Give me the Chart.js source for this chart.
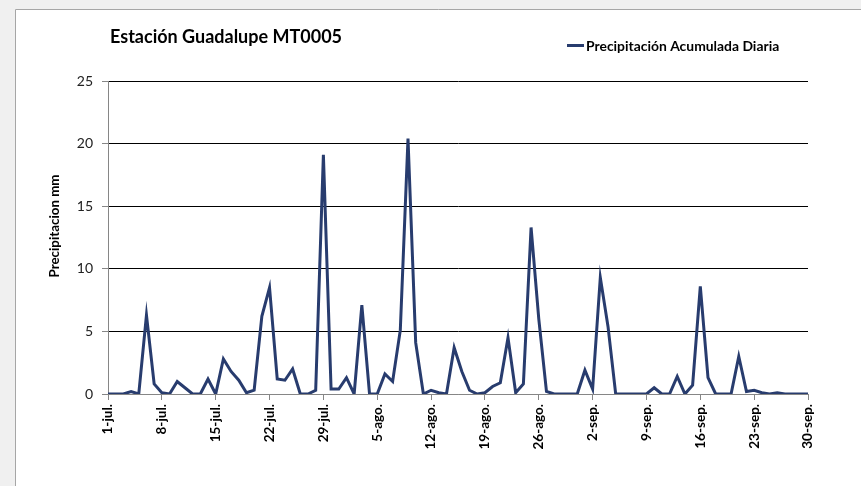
<!DOCTYPE html>
<html>
<head>
<meta charset="utf-8">
<script src="https://cdn.jsdelivr.net/npm/chart.js@4.4.0/dist/chart.umd.min.js"></script>
<style>
  html, body { margin: 0; padding: 0; background: #f0f0f0; }
  #wrap { width: 861px; height: 486px; position: relative; }
</style>
</head>
<body>
<div id="wrap"><canvas id="c" width="861" height="486"></canvas></div>
<script>
const chartTitle = 'Estación Guadalupe MT0005';
const seriesName = 'Precipitación Acumulada Diaria';
const yAxisTitle = 'Precipitacion mm';
const months = ['jul.', 'ago.', 'sep.'];
const monthDays = [31, 31, 30];
const yTicks = [0, 5, 10, 15, 20, 25];

// Daily precipitation (mm), 1-jul to 30-sep
const julValues = [0, 0, 0, 0.2, 0, 6.3, 0.8, 0.1, 0, 1.0, 0.5, 0, 0, 1.2, 0, 2.8, 1.8, 1.1, 0.1, 0.3, 6.2, 8.5, 1.2, 1.1, 2.0, 0, 0, 0.3, 19.1, 0.4, 0.4];
const agoValues = [1.3, 0, 7.1, 0, 0, 1.6, 1.0, 5.1, 20.4, 4.1, 0, 0.3, 0.1, 0, 3.7, 1.8, 0.3, 0, 0.1, 0.6, 0.9, 4.5, 0.1, 0.8, 13.3, 6.0, 0.2, 0, 0, 0, 0];
const sepValues = [1.9, 0.4, 9.3, 5.4, 0, 0, 0, 0, 0, 0.5, 0, 0, 1.4, 0, 0.7, 8.6, 1.3, 0, 0, 0, 3.0, 0.2, 0.3, 0.1, 0, 0.1, 0, 0, 0, 0];

const categories = [];
months.forEach((m, k) => { for (let d = 1; d <= monthDays[k]; d++) categories.push(d + '-' + m); });
const values = julValues.concat(agoValues, sepValues);

const FONT = 'Lato, "Open Sans", sans-serif';

const decor = {
  id: 'decor',
  beforeDraw(chart) {
    const ctx = chart.ctx;
    ctx.save();
    ctx.fillStyle = '#f0f0f0';
    ctx.fillRect(0, 0, chart.width, chart.height);
    ctx.fillStyle = '#ffffff';
    ctx.fillRect(15, 9, chart.width - 15, chart.height - 9);
    ctx.strokeStyle = '#a6a6a6';
    ctx.lineWidth = 1;
    ctx.beginPath();
    ctx.moveTo(15.5, chart.height);
    ctx.lineTo(15.5, 9.5);
    ctx.lineTo(chart.width, 9.5);
    ctx.stroke();
    ctx.restore();
  },
  afterDraw(chart) {
    const ctx = chart.ctx;
    ctx.save();
    // title
    ctx.fillStyle = '#000';
    ctx.font = 'bold 18px ' + FONT;
    ctx.textAlign = 'left';
    ctx.textBaseline = 'alphabetic';
    ctx.fillText(chartTitle, 110, 43);
    // legend
    ctx.strokeStyle = chart.data.datasets[0].borderColor;
    ctx.lineWidth = 3;
    ctx.beginPath();
    ctx.moveTo(567, 45.5);
    ctx.lineTo(584, 45.5);
    ctx.stroke();
    ctx.font = 'bold 13.9px ' + FONT;
    ctx.fillText(chart.data.datasets[0].label, 586, 50.5);
    // y axis title
    ctx.translate(55, 226);
    ctx.rotate(-Math.PI / 2);
    ctx.textAlign = 'center';
    ctx.textBaseline = 'middle';
    ctx.font = 'bold 13.3px ' + FONT;
    ctx.fillText(yAxisTitle, 0, 0);
    ctx.restore();
  }
};

new Chart(document.getElementById('c'), {
  type: 'line',
  data: {
    labels: categories,
    datasets: [{
      label: seriesName,
      data: values,
      borderColor: '#283c6e',
      borderWidth: 3,
      pointRadius: 0,
      tension: 0,
      fill: false
    }]
  },
  options: {
    responsive: false,
    animation: false,
    layout: { padding: { top: 81, right: 53, left: 0, bottom: 0 } },
    plugins: { legend: { display: false }, title: { display: false }, tooltip: { enabled: false } },
    scales: {
      x: {
        type: 'category',
        offset: false,
        afterFit: (s) => { s.height = 92; },
        grid: {
          drawOnChartArea: false,
          drawTicks: true,
          tickLength: 6,
          tickColor: (c) => (c.index % 7 === 0 ? '#868686' : 'rgba(0,0,0,0)'),
          color: '#868686'
        },
        border: { display: true, color: '#868686', width: 1 },
        ticks: {
          autoSkip: false,
          maxRotation: 90,
          minRotation: 90,
          padding: 4,
          color: '#000',
          font: { family: FONT, size: 13.5, weight: 'bold' },
          callback: function (v, i) { return i % 7 === 0 ? this.getLabelForValue(v) : ''; }
        }
      },
      y: {
        min: yTicks[0],
        max: yTicks[yTicks.length - 1],
        afterFit: (s) => { s.width = 108; },
        afterBuildTicks: (s) => { s.ticks = yTicks.map(v => ({ value: v })); },
        grid: {
          color: (c) => (c.tick && c.tick.value === 0 ? '#868686' : '#000000'),
          lineWidth: 1,
          tickColor: '#868686',
          tickLength: 6,
          drawTicks: true
        },
        border: { display: true, color: '#868686', width: 1 },
        ticks: {
          padding: 9,
          color: '#222',
          font: { family: FONT, size: 14 }
        }
      }
    }
  },
  plugins: [decor]
});
</script>
</body>
</html>
